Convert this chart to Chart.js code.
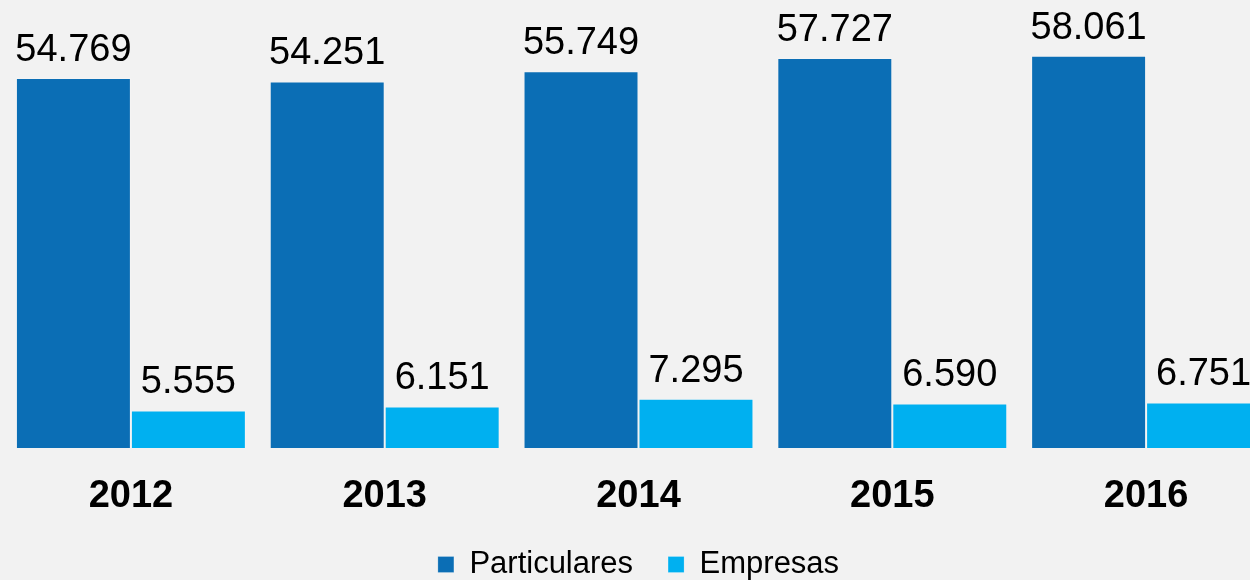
<!DOCTYPE html>
<html>
<head>
<meta charset="utf-8">
<script src="https://cdn.jsdelivr.net/npm/chart.js@4"></script>
<style>
    html, body { margin: 0; padding: 0; background: #f2f2f2; overflow: hidden; }
    #wrap { width: 1273px; height: 590px; }
</style>
</head>
<body>
<div id="wrap"><canvas id="chart"></canvas></div>
<script>
const years = ["2012", "2013", "2014", "2015", "2016"];
const particulares = [54769, 54251, 55749, 57727, 58061];
const empresas = [5555, 6151, 7295, 6590, 6751];

// miles con punto, estilo español
function fmt(v) {
    return String(v).replace(/\B(?=(\d{3})+(?!\d))/g, ".");
}

// ===== VALUE LABELS =====
const valueLabels = {
    id: "valueLabels",
    afterDatasetsDraw(chart) {
        const ctx = chart.ctx;
        ctx.save();
        ctx.font = "38px 'Liberation Sans', Arial, sans-serif";
        ctx.fillStyle = "#000";
        ctx.textAlign = "center";
        ctx.textBaseline = "alphabetic";
        chart.data.datasets.forEach((ds, i) => {
            chart.getDatasetMeta(i).data.forEach((bar, j) => {
                ctx.fillText(fmt(ds.data[j]), bar.x, bar.y - 17);
            });
        });
        ctx.restore();
    }
};

new Chart(document.getElementById("chart"), {
    type: "bar",
    data: {
        labels: years,
        datasets: [
            {
                label: "Particulares",
                data: particulares,
                backgroundColor: "#0b6eb5",
                borderColor: "rgba(255,255,255,0.2)",
                borderWidth: 1,
                categoryPercentage: 0.906,
                barPercentage: 1
            },
            {
                label: "Empresas",
                data: empresas,
                backgroundColor: "#00b0f0",
                borderColor: "rgba(255,255,255,0.2)",
                borderWidth: 1,
                categoryPercentage: 0.906,
                barPercentage: 1
            }
        ]
    },
    options: {
        responsive: true,
        maintainAspectRatio: false,
        animation: false,
        layout: { padding: { left: 4, top: 2, right: 0, bottom: 0 } },
        plugins: {
            legend: {
                position: "bottom",
                labels: {
                    boxWidth: 16,
                    boxHeight: 16,
                    padding: 35,
                    color: "#000",
                    font: { family: "'Liberation Sans', Arial, sans-serif", size: 31 }
                }
            },
            tooltip: { enabled: false }
        },
        scales: {
            x: {
                grid: { display: false },
                border: { display: false },
                ticks: {
                    color: "#000",
                    padding: 18,
                    font: { family: "'Liberation Sans', Arial, sans-serif", size: 38, weight: "bold" }
                },
                afterFit(scale) {
                    scale.height = 66;
                }
            },
            y: {
                display: false,
                min: 0,
                max: 66000
            }
        }
    },
    plugins: [valueLabels]
});
</script>
</body>
</html>
